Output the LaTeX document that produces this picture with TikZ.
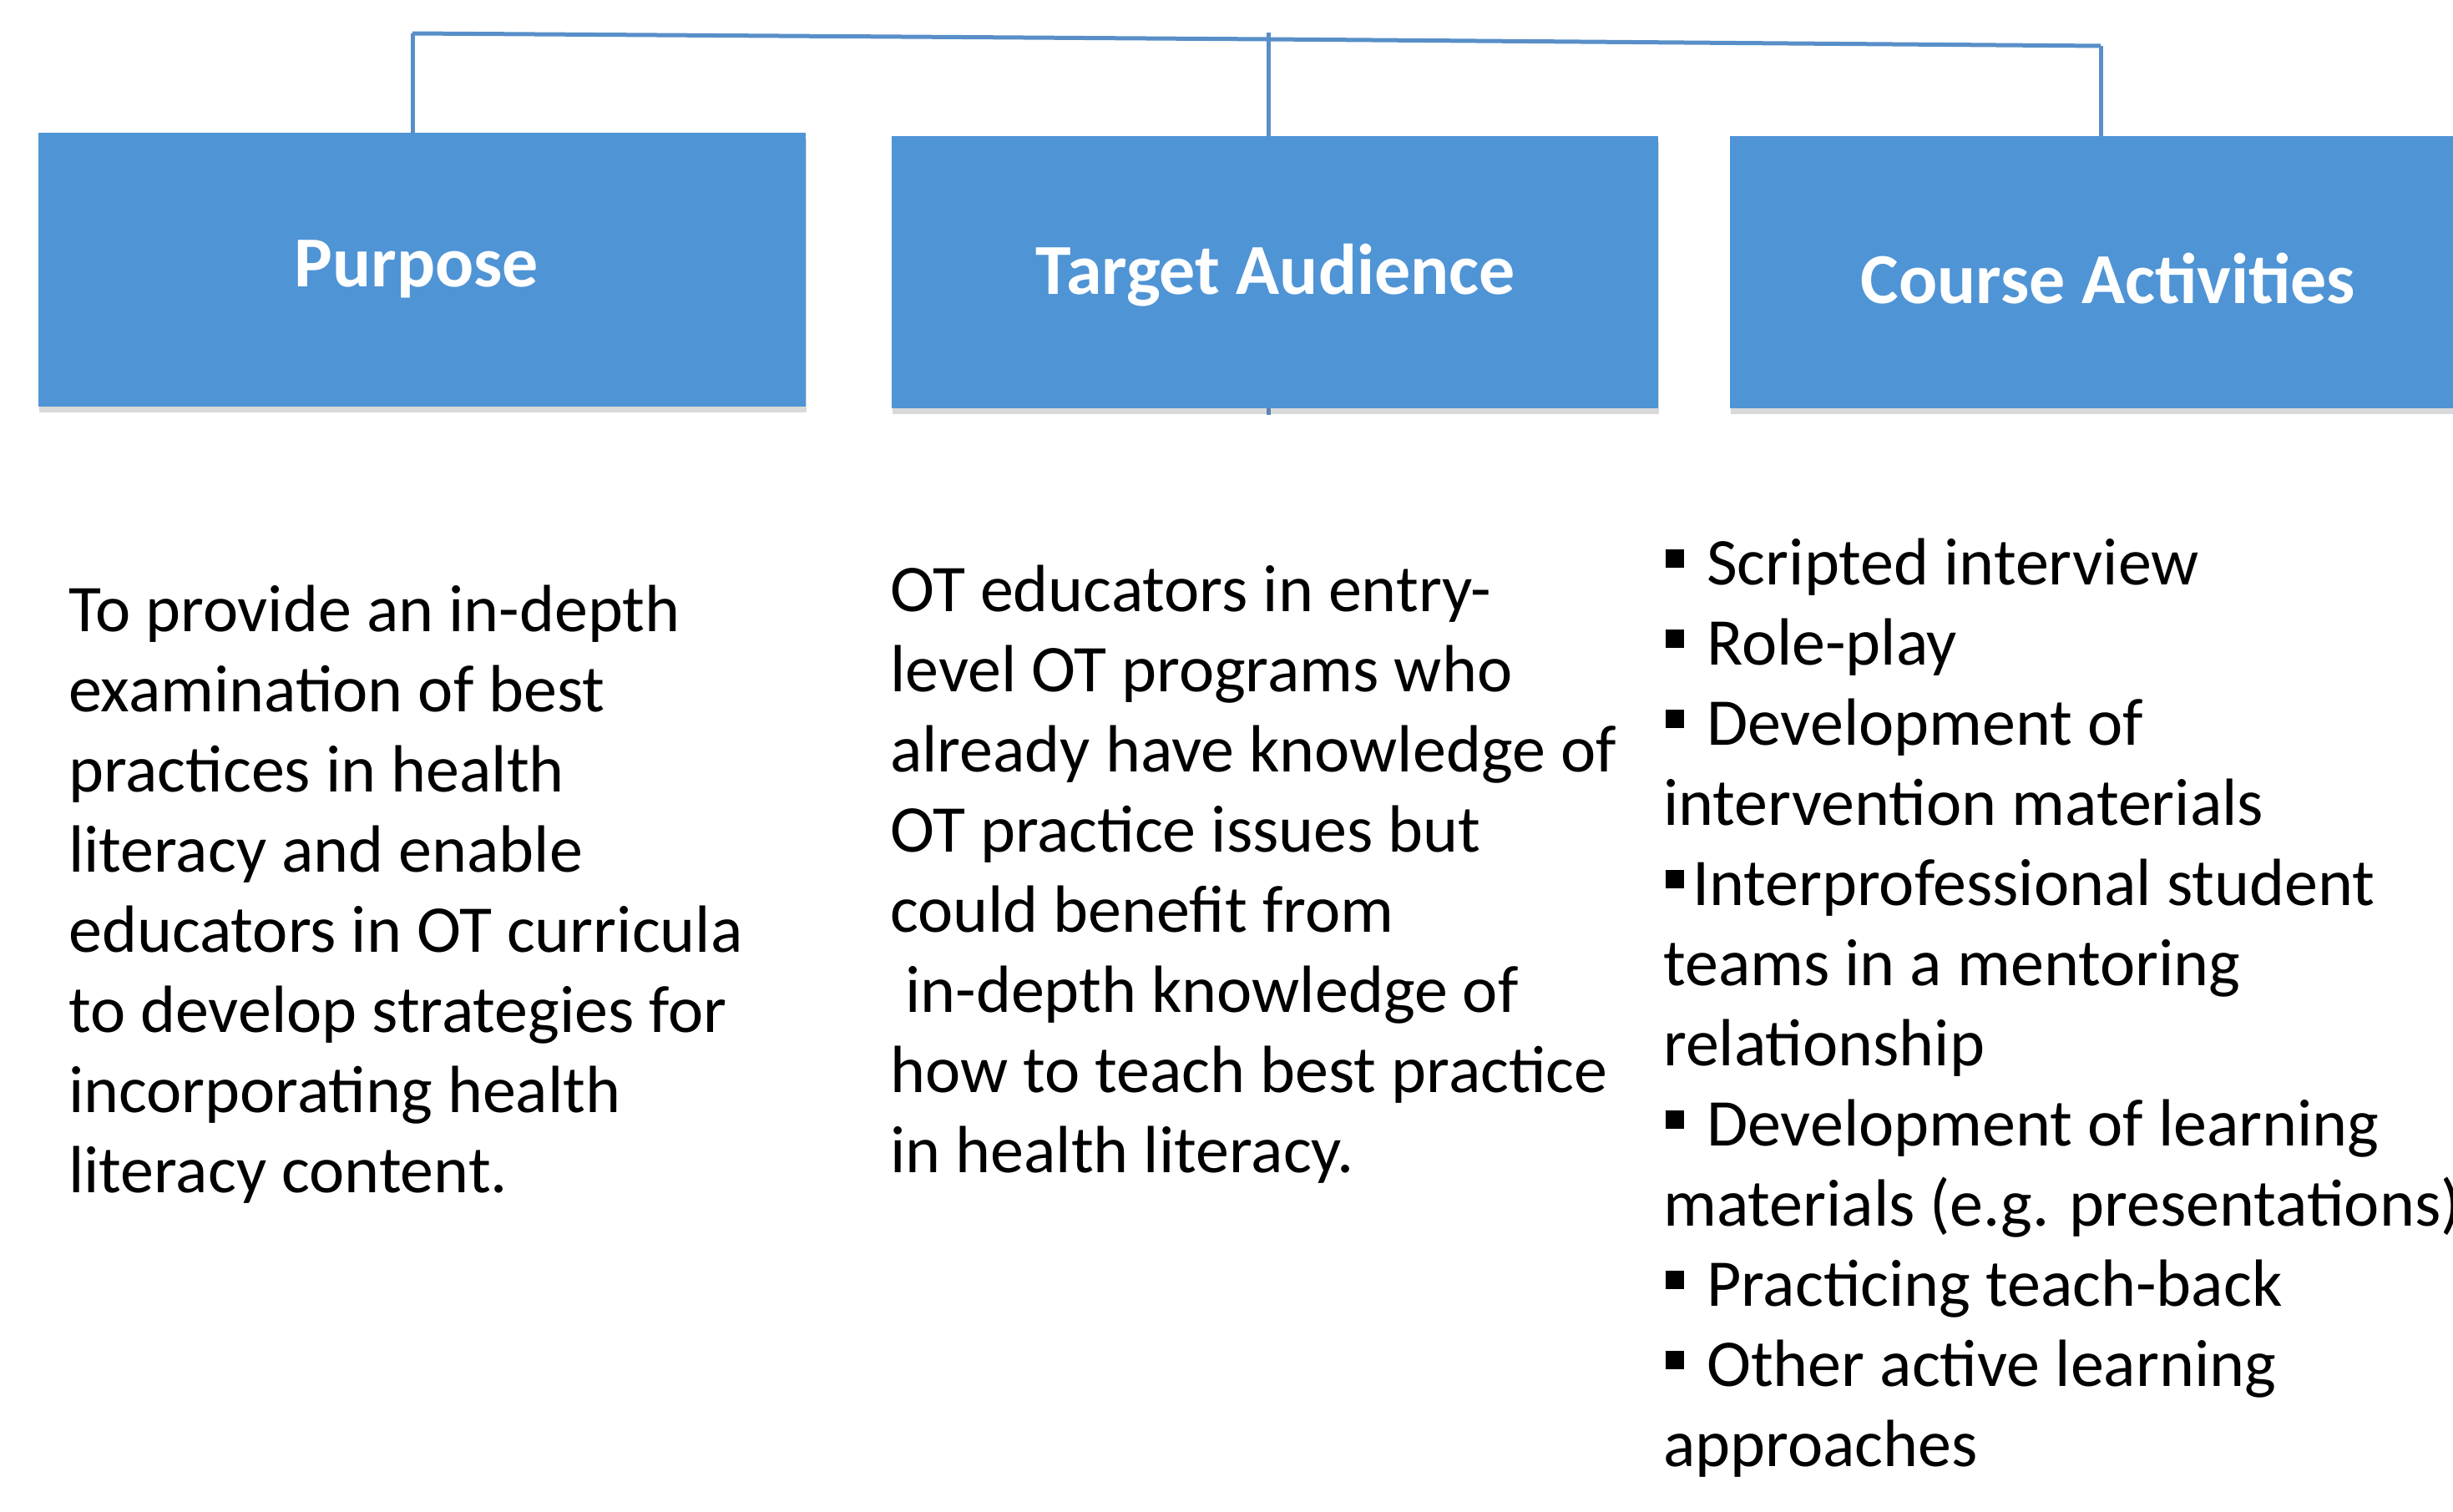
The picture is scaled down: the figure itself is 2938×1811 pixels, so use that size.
\documentclass[tikz,border=0pt]{standalone}
\usepackage{fontspec}
\setmainfont{Carlito}
\usetikzlibrary{shadows}
\definecolor{boxblue}{RGB}{79,148,213}
\definecolor{lineblue}{RGB}{88,143,200}
\newcommand\sqbullet{\rule[20bp]{22bp}{22bp}}
\newcommand\bodytext{\fontsize{80bp}{96bp}\selectfont}
\newcommand\bitem{\hspace*{3bp}\sqbullet\hspace{27bp}}
\tikzset{
  headbox/.style={fill=boxblue, draw=none, rectangle, anchor=north west, inner sep=0pt,
    drop shadow={shadow xshift=1bp, shadow yshift=-7bp, opacity=0.25, fill=black!60}},
  headtext/.style={text=white, anchor=base, inner sep=0pt,
    font=\fontsize{86bp}{100bp}\selectfont\bfseries},
  conn/.style={draw=lineblue, line width=5bp},
  column/.style={anchor=base west, inner sep=0pt}
}
\begin{document}
\begin{tikzpicture}[x=1bp, y=-1bp]
\useasboundingbox (0,0) rectangle (2938,1811);

% junction points on the top bar
\coordinate (j1) at (494,40);
\coordinate (j2) at (1519,47);
\coordinate (j3) at (2516,55);
\coordinate (j2top) at (1519,39);
\coordinate (stub) at (1519,497);

% top bar and the drop to the middle box (passes behind it)
\draw[conn] (j1) -- (j2) -- (j3);
\draw[conn] (j2top) -- (stub);

% heading boxes
\node[headbox, minimum width=919bp, minimum height=328bp] (purpose) at (46,159) {};
\node[headbox, minimum width=918bp, minimum height=326bp] (target) at (1068,163) {};
\node[headbox, minimum width=904bp, minimum height=326bp] (course) at (2072,163) {};

% drops from the bar to the outer boxes
\draw[conn] (j1) -- (j1 |- purpose.north);
\draw[conn] (j3) -- (j3 |- course.north);

% heading labels
\node[headtext] (purposelbl) at (499,343) {Purpose};
\node[headtext] (targetlbl) at (1528,352) {Target Audience};
\node[headtext] (courselbl) at (2525,363) {Course Activities};

% column texts
\node[column] (purposetxt) at (82,756) {\parbox[t]{1000bp}{\bodytext\raggedright
To provide an in-depth\\
examination of best\\
practices in health\\
literacy and enable\\
educators in OT curricula\\
to develop strategies for\\
incorporating health\\
literacy content.}};

\node[column] (targettxt) at (1066,732) {\parbox[t]{1000bp}{\bodytext\raggedright
OT educators in entry-\\
level OT programs who\\
already have knowledge of\\
OT practice issues but\\
could benefit from\\
\hspace*{0.226em}in-depth knowledge of\\
how to teach best practice\\
in health literacy.}};

\node[column] (coursetxt) at (1992,700) {\parbox[t]{1200bp}{\bodytext\raggedright
\bitem Scripted interview\\
\bitem Role-play\\
\bitem Development of\\
intervention materials\\
\hspace*{3bp}\sqbullet\hspace{10bp}Interprofessional student\\
teams in a mentoring\\
relationship\\
\bitem Development of learning\\
materials (e.g. presentations)\\
\bitem Practicing teach-back\\
\bitem Other active learning\\
approaches}};
\end{tikzpicture}
\end{document}
